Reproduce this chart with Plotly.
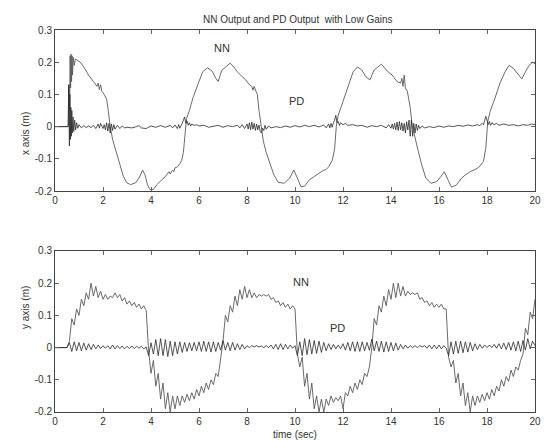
import plotly.graph_objects as go
from plotly.subplots import make_subplots

# ---------------- data ----------------
# top panel: x axis response, (time, value) pairs
x_nn_pts = [
    (0.0, 0), (0.55, 0), (0.58, 0.13), (0.61, 0.05), (0.63, 0.22), (0.65, 0.12),
    (0.67, 0.225), (0.69, 0.14), (0.71, 0.22), (0.73, 0.16), (0.76, 0.215),
    (0.8, 0.19), (0.85, 0.21), (0.95, 0.205), (1.05, 0.2), (1.2, 0.185),
    (1.4, 0.16), (1.6, 0.14), (1.75, 0.125), (1.8, 0.135), (1.85, 0.115),
    (1.9, 0.13), (1.95, 0.11), (2.05, 0.1), (2.15, 0.085), (2.22, 0.05),
    (2.3, 0.0), (2.4, -0.04), (2.55, -0.08), (2.7, -0.12), (2.85, -0.155),
    (3.0, -0.175), (3.15, -0.18), (3.35, -0.175), (3.5, -0.16), (3.65, -0.135),
    (3.75, -0.15), (3.85, -0.18), (3.95, -0.195), (4.1, -0.195), (4.25, -0.18),
    (4.45, -0.165), (4.6, -0.155), (4.75, -0.14), (4.8, -0.147), (4.9, -0.135),
    (4.95, -0.14), (5.0, -0.128), (5.1, -0.125), (5.2, -0.115), (5.28, -0.105),
    (5.35, -0.08), (5.42, -0.02), (5.48, 0.025), (5.6, 0.05), (5.75, 0.09),
    (5.95, 0.13), (6.15, 0.17), (6.35, 0.183), (6.55, 0.172), (6.7, 0.15),
    (6.8, 0.14), (6.95, 0.175), (7.1, 0.185), (7.3, 0.197), (7.45, 0.185),
    (7.6, 0.17), (7.8, 0.155), (7.95, 0.145), (8.1, 0.13), (8.2, 0.125),
    (8.25, 0.113), (8.3, 0.125), (8.37, 0.11), (8.43, 0.1), (8.5, 0.05),
    (8.58, 0.0), (8.68, -0.045), (8.8, -0.08), (8.95, -0.11), (9.12, -0.15),
    (9.3, -0.173), (9.55, -0.176), (9.78, -0.16), (9.95, -0.135), (10.1, -0.16),
    (10.25, -0.187), (10.4, -0.185), (10.6, -0.165), (10.8, -0.155), (11.0, -0.145),
    (11.1, -0.14), (11.2, -0.135), (11.3, -0.133), (11.4, -0.125), (11.55, -0.105),
    (11.65, -0.07), (11.72, 0.0), (11.8, 0.035), (12.0, 0.078), (12.2, 0.124),
    (12.42, 0.17), (12.6, 0.185), (12.78, 0.176), (12.95, 0.155), (13.12, 0.145),
    (13.3, 0.176), (13.6, 0.194), (13.85, 0.172), (14.05, 0.16), (14.25, 0.14),
    (14.4, 0.135), (14.45, 0.15), (14.5, 0.125), (14.55, 0.16), (14.6, 0.12),
    (14.68, 0.11), (14.8, 0.06), (14.88, 0.005), (15.0, -0.036), (15.14, -0.078),
    (15.28, -0.119), (15.45, -0.16), (15.67, -0.176), (15.9, -0.171), (16.08, -0.155),
    (16.22, -0.14), (16.36, -0.163), (16.52, -0.188), (16.72, -0.182), (16.94, -0.16),
    (17.1, -0.15), (17.3, -0.14), (17.5, -0.133), (17.65, -0.127), (17.85, -0.109),
    (17.95, -0.067), (18.03, 0.016), (18.13, 0.047), (18.33, 0.088), (18.54, 0.135),
    (18.75, 0.17), (18.92, 0.19), (19.1, 0.181), (19.3, 0.16), (19.45, 0.148),
    (19.6, 0.17), (19.75, 0.19), (19.9, 0.2), (20.0, 0.195),
]

x_pd_pts = [
    (0.0, 0), (0.55, 0), (0.57, 0.13), (0.6, -0.06), (0.62, 0.1), (0.64, -0.04),
    (0.66, 0.06), (0.68, -0.03), (0.7, 0.05), (0.72, -0.02), (0.75, 0.03),
    (0.78, -0.015), (0.82, 0.02), (0.86, -0.01), (0.9, 0.012), (0.95, -0.005),
    (1.0, 0.006), (1.1, -0.004), (1.2, 0.003), (1.3, -0.003), (1.4, 0.002),
    (1.5, -0.003), (1.6, 0.004), (1.7, -0.006), (1.8, 0.008), (1.85, -0.005),
    (1.9, 0.01), (2.0, -0.006), (2.05, 0.006), (2.1, -0.01), (2.15, 0.012),
    (2.2, -0.014), (2.25, 0.01), (2.3, -0.02), (2.35, 0.008), (2.4, -0.012),
    (2.45, 0.006), (2.5, -0.008), (2.6, 0.004), (2.7, -0.006), (2.8, 0.002),
    (2.9, -0.004), (3.0, -0.002), (3.2, -0.004), (3.4, 0.0), (3.5, 0.003),
    (3.6, -0.004), (3.8, -0.006), (4.0, 0.002), (4.2, -0.002), (4.4, 0.003),
    (4.6, -0.002), (4.8, 0.004), (4.9, -0.004), (5.0, 0.005), (5.1, -0.006),
    (5.15, 0.006), (5.2, -0.005), (5.3, 0.01), (5.35, 0.02), (5.4, 0.03),
    (5.45, 0.01), (5.5, 0.018), (5.55, 0.004), (5.6, 0.012), (5.65, 0.002),
    (5.7, 0.008), (5.8, 0.004), (5.9, 0.006), (6.0, 0.002), (6.2, 0.004),
    (6.4, -0.002), (6.6, 0.002), (6.8, 0.004), (7.0, -0.002), (7.2, 0.003),
    (7.4, 0.0), (7.6, 0.004), (7.7, -0.004), (7.8, 0.006), (7.9, -0.006),
    (8.0, 0.008), (8.05, -0.008), (8.1, 0.012), (8.15, -0.01), (8.2, 0.014),
    (8.25, -0.008), (8.3, 0.01), (8.35, -0.012), (8.4, 0.008), (8.45, -0.01),
    (8.5, 0.005), (8.55, -0.015), (8.6, -0.02), (8.65, -0.005), (8.7, -0.012),
    (8.75, 0.004), (8.8, -0.008), (8.9, 0.002), (9.0, -0.004), (9.2, 0.0),
    (9.4, -0.003), (9.6, 0.002), (9.8, -0.002), (10.0, 0.003), (10.2, -0.001),
    (10.4, 0.004), (10.6, 0.0), (10.8, 0.004), (11.0, -0.001), (11.2, 0.005),
    (11.3, -0.004), (11.4, 0.008), (11.45, -0.004), (11.5, 0.01), (11.55, -0.002),
    (11.6, 0.012), (11.65, 0.02), (11.7, 0.035), (11.75, 0.012), (11.8, 0.016),
    (11.85, 0.004), (11.9, 0.012), (12.0, 0.006), (12.1, 0.01), (12.2, 0.004),
    (12.4, 0.006), (12.6, 0.002), (12.8, 0.004), (13.0, -0.002), (13.2, 0.003),
    (13.4, 0.0), (13.6, 0.004), (13.8, -0.004), (13.9, 0.006), (14.0, -0.005),
    (14.05, 0.008), (14.1, -0.008), (14.15, 0.01), (14.2, -0.01), (14.25, 0.014),
    (14.3, -0.012), (14.35, 0.016), (14.4, -0.01), (14.45, 0.012), (14.5, -0.014),
    (14.55, 0.01), (14.6, -0.02), (14.65, 0.015), (14.7, -0.01), (14.75, 0.02),
    (14.8, -0.03), (14.85, 0.02), (14.9, -0.03), (14.95, 0.01), (15.0, -0.02),
    (15.05, 0.008), (15.1, -0.012), (15.15, 0.004), (15.2, -0.006), (15.3, 0.002),
    (15.4, -0.004), (15.6, 0.0), (15.8, -0.003), (16.0, 0.002), (16.2, -0.002),
    (16.4, 0.002), (16.6, 0.0), (16.8, 0.004), (17.0, 0.001), (17.2, 0.005),
    (17.4, 0.002), (17.6, 0.006), (17.7, 0.003), (17.8, 0.01), (17.85, 0.006),
    (17.9, 0.018), (17.95, 0.032), (18.0, 0.02), (18.05, 0.006), (18.1, 0.016),
    (18.15, 0.004), (18.2, 0.012), (18.3, 0.006), (18.4, 0.01), (18.5, 0.004),
    (18.7, 0.008), (18.9, 0.004), (19.1, 0.006), (19.3, 0.002), (19.5, 0.006),
    (19.7, 0.004), (19.85, 0.008), (20.0, 0.006),
]

# bottom panel: y axis response, sampled every 0.1 s
t_grid = [round(i * 0.1, 1) for i in range(201)]

y_nn = [
    0, 0, 0, 0, 0, 0, 0.02, 0.09, 0.07, 0.12,
    0.10, 0.15, 0.13, 0.17, 0.15, 0.20, 0.16, 0.19, 0.155, 0.175,
    0.15, 0.165, 0.15, 0.16, 0.155, 0.17, 0.155, 0.165, 0.145, 0.155,
    0.135, 0.145, 0.13, 0.14, 0.125, 0.135, 0.12, 0.13, 0.115, -0.01,
    -0.08, -0.04, -0.12, -0.08, -0.16, -0.11, -0.19, -0.14, -0.20, -0.15,
    -0.19, -0.15, -0.18, -0.15, -0.17, -0.145, -0.165, -0.14, -0.16, -0.13,
    -0.15, -0.12, -0.14, -0.11, -0.13, -0.10, -0.115, -0.08, -0.09, -0.04,
    0.02, 0.10, 0.08, 0.13, 0.11, 0.16, 0.13, 0.18, 0.15, 0.19,
    0.155, 0.18, 0.155, 0.17, 0.155, 0.165, 0.16, 0.165, 0.16, 0.165,
    0.15, 0.155, 0.14, 0.145, 0.13, 0.14, 0.125, 0.135, 0.12, 0.13,
    0.12, -0.02, -0.06, -0.03, -0.12, -0.08, -0.16, -0.11, -0.19, -0.15,
    -0.20, -0.16, -0.20, -0.16, -0.18, -0.15, -0.17, -0.155, -0.165, -0.15,
    -0.19, -0.14, -0.15, -0.12, -0.14, -0.11, -0.13, -0.10, -0.115, -0.08,
    -0.09, -0.06, 0.00, 0.09, 0.07, 0.13, 0.11, 0.16, 0.13, 0.18,
    0.15, 0.20, 0.155, 0.20, 0.16, 0.19, 0.16, 0.175, 0.165, 0.17,
    0.165, 0.17, 0.15, 0.155, 0.14, 0.145, 0.13, 0.14, 0.125, 0.135,
    0.125, 0.135, 0.12, 0.12, -0.03, -0.06, -0.04, -0.11, -0.08, -0.15,
    -0.11, -0.18, -0.14, -0.20, -0.15, -0.18, -0.15, -0.17, -0.145, -0.165,
    -0.14, -0.16, -0.13, -0.15, -0.12, -0.135, -0.10, -0.12, -0.09, -0.105,
    -0.07, -0.09, -0.06, -0.07, -0.04, -0.02, 0.06, 0.04, 0.11, 0.09,
    0.15,
]

y_pd = [
    0, 0, 0, 0, 0, 0, 0.015, -0.012, 0.018, -0.010,
    0.016, -0.010, 0.014, -0.008, 0.012, -0.006, 0.010, -0.004, 0.008, -0.003,
    0.006, -0.002, 0.006, -0.004, 0.008, -0.004, 0.006, -0.003, 0.005, -0.004,
    0.004, -0.003, 0.005, -0.003, 0.004, -0.002, 0.004, -0.004, 0.002, -0.025,
    0.015, -0.020, 0.025, -0.025, 0.028, -0.025, 0.025, -0.028, 0.020, -0.025,
    0.018, -0.020, 0.018, -0.015, 0.016, -0.012, 0.015, -0.010, 0.016, -0.010,
    0.018, -0.012, 0.020, -0.012, 0.018, -0.014, 0.018, -0.012, 0.016, -0.008,
    0.022, -0.008, 0.016, -0.010, 0.016, -0.008, 0.012, -0.006, 0.010, -0.004,
    0.006, 0.000, 0.006, 0.002, 0.006, 0.002, 0.005, 0.000, 0.006, 0.000,
    0.008, -0.004, 0.010, -0.006, 0.012, -0.006, 0.010, -0.004, 0.008, -0.002,
    0.006, -0.025, 0.018, -0.025, 0.028, -0.022, 0.025, -0.020, 0.022, -0.018,
    0.020, -0.015, 0.016, -0.010, 0.012, -0.006, 0.010, -0.004, 0.008, -0.004,
    0.012, -0.008, 0.016, -0.010, 0.018, -0.012, 0.018, -0.012, 0.018, -0.010,
    0.016, -0.008, 0.026, -0.010, 0.020, -0.012, 0.020, -0.014, 0.018, -0.012,
    0.016, -0.010, 0.014, -0.008, 0.010, -0.004, 0.008, -0.002, 0.006, 0.000,
    0.006, 0.000, 0.006, 0.002, 0.006, -0.002, 0.008, -0.004, 0.008, -0.004,
    0.008, -0.004, 0.006, -0.002, -0.025, 0.018, -0.020, 0.020, -0.018, 0.020,
    -0.016, 0.018, -0.014, 0.016, -0.010, 0.012, -0.006, 0.010, -0.002, 0.008,
    0.000, 0.008, 0.000, 0.010, -0.002, 0.012, -0.004, 0.014, -0.006, 0.016,
    -0.008, 0.018, -0.010, 0.020, -0.012, 0.022, -0.008, 0.028, -0.004, 0.020,
    0.006,
]

x_ticks = [0, 2, 4, 6, 8, 10, 12, 14, 16, 18, 20]
y_ticks = [0.3, 0.2, 0.1, 0, -0.1, -0.2]
y_ticktext = ["0.3", "0.2", "0.1", "0", "-0.1", "-0.2"]

title_text = "NN Output and PD Output  with Low Gains"
ylabels = ["x axis (m)", "y axis (m)"]
xlabel = "time (sec)"

# ---------------- figure ----------------
font_family = "Liberation Sans, Arial, sans-serif"
ink = "#333333"
nn_line = dict(color="#5a5a5a", width=0.9)
pd_line = dict(color="#2a2a2a", width=0.8)

fig = make_subplots(rows=2, cols=1, vertical_spacing=0.157)

fig.add_trace(go.Scatter(x=[p[0] for p in x_nn_pts], y=[p[1] for p in x_nn_pts],
                         mode="lines", line=nn_line), row=1, col=1)
fig.add_trace(go.Scatter(x=[p[0] for p in x_pd_pts], y=[p[1] for p in x_pd_pts],
                         mode="lines", line=pd_line), row=1, col=1)
fig.add_trace(go.Scatter(x=t_grid, y=y_nn, mode="lines", line=nn_line), row=2, col=1)
fig.add_trace(go.Scatter(x=t_grid, y=y_pd, mode="lines", line=pd_line), row=2, col=1)

axis_style = dict(showline=True, linecolor="#444444", linewidth=1, mirror="ticks",
                  ticks="inside", ticklen=4, tickcolor="#666666", showgrid=False,
                  zeroline=False, automargin=False,
                  tickfont=dict(size=10, color=ink, family=font_family))

for r in (1, 2):
    fig.update_xaxes(range=[0, 20], tickvals=x_ticks, row=r, col=1, **axis_style)
    fig.update_yaxes(range=[-0.2, 0.3], tickvals=y_ticks, ticktext=y_ticktext,
                     row=r, col=1, **axis_style)

fig.update_yaxes(domain=[0.5785, 1.0], row=1, col=1)
fig.update_yaxes(domain=[0.0, 0.4215], row=2, col=1)

# labels on the panels
fig.add_annotation(x=6.95, y=0.243, text="NN", showarrow=False, xref="x", yref="y",
                   font=dict(size=11, color=ink, family=font_family))
fig.add_annotation(x=10.08, y=0.081, text="PD", showarrow=False, xref="x", yref="y",
                   font=dict(size=11, color=ink, family=font_family))
fig.add_annotation(x=10.24, y=0.204, text="NN", showarrow=False, xref="x2", yref="y2",
                   font=dict(size=11, color=ink, family=font_family))
fig.add_annotation(x=11.76, y=0.062, text="PD", showarrow=False, xref="x2", yref="y2",
                   font=dict(size=11, color=ink, family=font_family))

# title, axis titles
fig.add_annotation(x=0.506, y=1.0, yshift=11, text=title_text, showarrow=False,
                   xref="paper", yref="paper", yanchor="middle",
                   font=dict(size=10, color=ink, family=font_family))
fig.add_annotation(x=0.5, y=0.0, yshift=-22, text=xlabel, showarrow=False,
                   xref="paper", yref="paper", yanchor="middle",
                   font=dict(size=10, color=ink, family=font_family))
fig.add_annotation(x=0.0, xshift=-30, y=0.789, text=ylabels[0], showarrow=False,
                   textangle=-90, xref="paper", yref="paper", xanchor="center",
                   font=dict(size=10, color=ink, family=font_family))
fig.add_annotation(x=0.0, xshift=-30, y=0.2107, text=ylabels[1], showarrow=False,
                   textangle=-90, xref="paper", yref="paper", xanchor="center",
                   font=dict(size=10, color=ink, family=font_family))

fig.update_layout(width=547, height=441, showlegend=False, hovermode=False,
                  margin=dict(l=55, r=12, t=30, b=29),
                  paper_bgcolor="white", plot_bgcolor="white",
                  font=dict(family=font_family, color=ink))

# drop the default page margin so the figure sits at the window corner
fig.write_html("out.html",
               config={"displayModeBar": False, "staticPlot": True},
               post_script="document.body.style.margin='0';"
                           "document.body.style.overflow='hidden';")
